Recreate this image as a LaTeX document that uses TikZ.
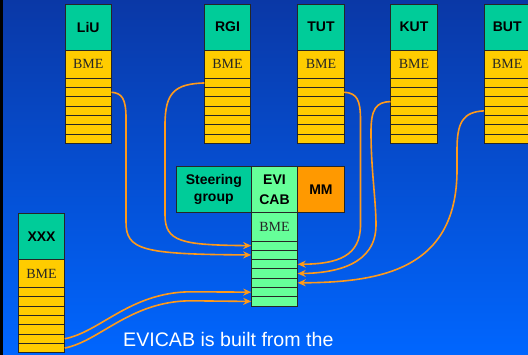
\documentclass[tikz,border=0pt]{standalone}
\usepackage{fontspec}
\setmainfont{Liberation Serif}
\newfontfamily\arialf{Liberation Sans}
\usetikzlibrary{arrows.meta}
\definecolor{hdrc}{HTML}{00CC99}
\definecolor{bmec}{HTML}{FFCC00}
\definecolor{evic}{HTML}{66FF99}
\definecolor{mmc}{HTML}{FF9900}
\definecolor{arrc}{HTML}{FF9A1A}
\definecolor{bgtop}{HTML}{0A38A6}
\definecolor{bgmid}{HTML}{0050D6}
\definecolor{bgbot}{HTML}{0066FF}
\tikzset{
  cell/.style={draw=black!85, line width=0.8pt, inner sep=0pt, outer sep=0pt, minimum width=46.5pt, anchor=north west},
  hdr/.style={cell, fill=hdrc, minimum height=46pt, font=\arialf\bfseries\fontsize{14}{16.7}\selectfont, align=center},
  bmecell/.style={cell, minimum height=28.3pt, font=\fontsize{14}{16}\selectfont, text=black!85},
  stripe/.style={cell, minimum height=9.3pt},
  arr/.style={draw=arrc, line width=1.6pt, -{Stealth[length=8pt,width=7pt]}},
}
\newcommand\mkcol[4]{%
  \node[bmecell, fill=#4] (#1-bme) at (#2,#3) {BME};
  \foreach \i in {1,...,7} {
    \node[stripe, fill=#4] (#1-\i) at (#2,{#3+28.3+(\i-1)*9.3}) {};
  }
}
\begin{document}
\begin{tikzpicture}[x=1pt,y=-1pt]
\useasboundingbox (0,0) rectangle (528,355);
\shade[top color=bgtop, middle color=bgmid, bottom color=bgbot] (0,0) rectangle (528,355);
\fill[black] (0,0) rectangle (3,355);

% top columns
\node[hdr] (liu) at (65,4) {LiU};
\mkcol{liu}{65}{50}{bmec}
\node[hdr] (rgi) at (204.3,4) {RGI};
\mkcol{rgi}{204.3}{50}{bmec}
\node[hdr] (tut) at (297.7,4) {TUT};
\mkcol{tut}{297.7}{50}{bmec}
\node[hdr] (kut) at (390.7,4) {KUT};
\mkcol{kut}{390.7}{50}{bmec}
\node[hdr] (but) at (484,4) {BUT};
\mkcol{but}{484}{50}{bmec}

% XXX column
\node[hdr] (xxx) at (18.3,213.3) {XXX};
\mkcol{xxx}{18.3}{259.3}{bmec}

% EVICAB
\node[hdr, minimum width=74.8pt] (steer) at (176.4,166.7) {Steering\\group};
\node[hdr, fill=evic, font=\arialf\bfseries\fontsize{14}{19.5}\selectfont] (evicab) at (251.2,166.7) {EVI\\CAB};
\node[hdr, fill=mmc] (mm) at (297.7,166.7) {MM};
\mkcol{evi}{251.2}{212.7}{evic}

% arrows
\draw[arr] (rgi-1.west) .. controls (175,84) and (165,92) .. (165,125) -- (165,215) .. controls (165,242) and (182,245) .. (evi-1.west);
\draw[arr] (liu-2.east) .. controls (122,93) and (126,99) .. (126,118) -- (126,222) .. controls (126,250) and (142,254.3) .. (evi-2.west);
\draw[arr] (tut-2.east) .. controls (357,93) and (360.5,100) .. (360.5,120) -- (360.5,225) .. controls (360.5,256) and (338,264) .. (evi-3.east);
\draw[arr] (kut-3.west) .. controls (376,102) and (371,109) .. (371,132) .. controls (371,170) and (376,200) .. (376,225) .. controls (376,265) and (335,273) .. (evi-4.east);
\draw[arr] (but-4.west) .. controls (463,112) and (457,122) .. (457,150) -- (457,170) .. controls (457,270) and (380,282.3) .. (evi-5.east);
\draw[arr] (xxx-6.east) .. controls (100,332) and (130,292.5) .. (190,291.8) -- (evi-6.west);
\draw[arr] (xxx-7.east) .. controls (100,341) and (130,301.5) .. (190,300.8) -- (evi-7.west);

\node[anchor=base west, text=white, inner sep=0pt, font=\arialf\fontsize{19.6}{23}\selectfont] (caption) at (123,346.7) {EVICAB is built from the};
\end{tikzpicture}
\end{document}
